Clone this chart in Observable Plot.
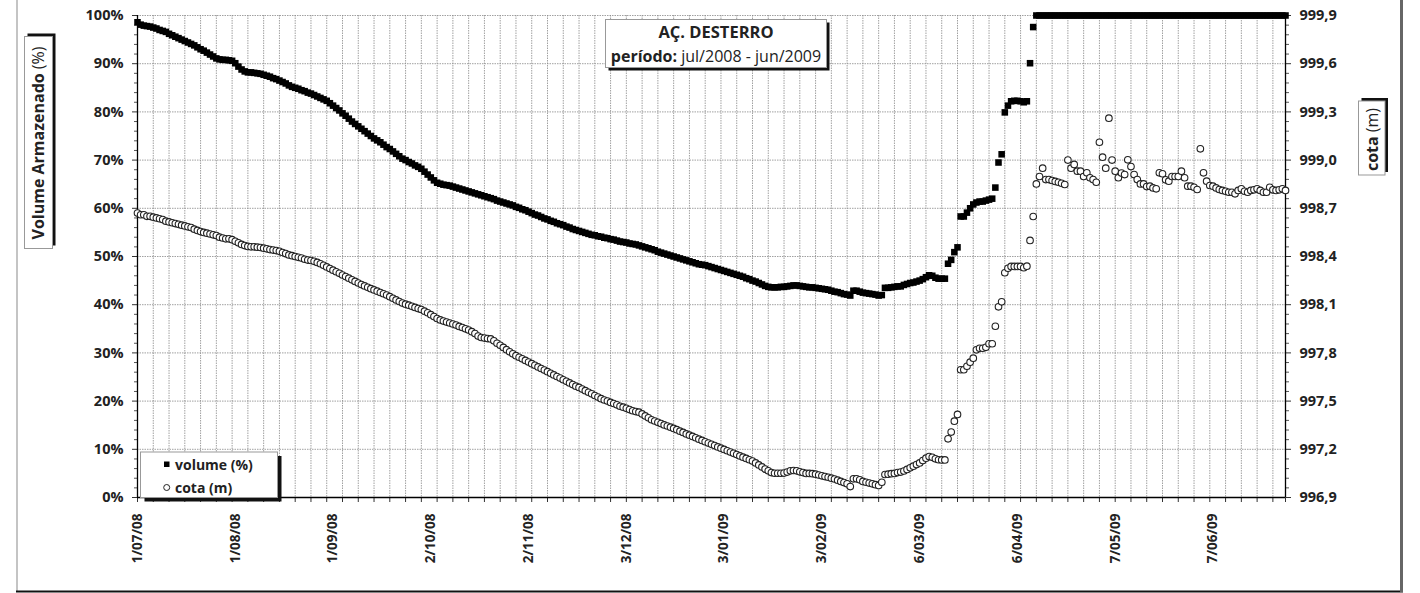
<!DOCTYPE html>
<html>
<head>
<meta charset="utf-8">
<script src="https://cdn.jsdelivr.net/npm/d3@7"></script>
<script src="https://cdn.jsdelivr.net/npm/@observablehq/plot@0.6"></script>
<style>
  html, body { margin: 0; padding: 0; background: #fff; }
  #chart svg { display: block; }
</style>
</head>
<body>
<div id="chart"></div>
<script>
// ---- DATA ----
// Daily series starting 1/07/2008 (index = day number)
const volume = [
  98.6, 98.1, 97.9, 97.8, 97.7, 97.5, 97.3, 97.0, 96.8, 96.6,
  96.2, 95.9, 95.6, 95.3, 95.0, 94.7, 94.4, 94.1, 93.8, 93.4,
  93.0, 92.7, 92.3, 91.9, 91.5, 91.1, 90.9, 90.8, 90.8, 90.7,
  90.6, 90.1, 89.4, 88.8, 88.4, 88.2, 88.2, 88.1, 88.0, 87.9,
  87.7, 87.5, 87.3, 87.0, 86.8, 86.5, 86.2, 85.9, 85.5, 85.2,
  85.0, 84.8, 84.5, 84.3, 84.0, 83.8, 83.5, 83.2, 82.9, 82.6,
  82.3, 81.8, 81.3, 80.8, 80.3, 79.7, 79.2, 78.6, 78.0, 77.5,
  77.0, 76.5, 76.0, 75.5, 75.0, 74.5, 74.1, 73.7, 73.2, 72.7,
  72.3, 71.8, 71.3, 70.8, 70.3, 70.0, 69.6, 69.3, 68.9, 68.6,
  68.2, 67.6, 67.0, 66.4, 65.8, 65.3, 65.1, 64.9, 64.8, 64.7,
  64.5, 64.3, 64.1, 63.9, 63.7, 63.5, 63.3, 63.1, 62.9, 62.7,
  62.5, 62.3, 62.1, 61.9, 61.6, 61.4, 61.2, 61.0, 60.8, 60.6,
  60.3, 60.1, 59.8, 59.6, 59.3, 59.0, 58.7, 58.5, 58.2, 57.9,
  57.7, 57.4, 57.2, 56.9, 56.7, 56.5, 56.2, 56.0, 55.7, 55.5,
  55.3, 55.1, 54.9, 54.7, 54.5, 54.4, 54.2, 54.1, 53.9, 53.8,
  53.6, 53.5, 53.3, 53.1, 53.0, 52.9, 52.7, 52.6, 52.5, 52.3,
  52.1, 51.9, 51.7, 51.5, 51.3, 51.0, 50.8, 50.6, 50.4, 50.2,
  50.0, 49.8, 49.6, 49.4, 49.2, 49.0, 48.8, 48.6, 48.4, 48.3,
  48.2, 48.0, 47.8, 47.6, 47.4, 47.2, 47.0, 46.8, 46.6, 46.4,
  46.2, 46.0, 45.8, 45.5, 45.3, 45.0, 44.8, 44.5, 44.2, 43.9,
  43.7, 43.6, 43.6, 43.6, 43.7, 43.7, 43.8, 43.9, 44.0, 44.0,
  43.9, 43.8, 43.7, 43.6, 43.6, 43.5, 43.4, 43.3, 43.2, 43.1,
  42.9, 42.7, 42.6, 42.4, 42.2, 42.1, 41.9, 42.9, 42.9, 42.7,
  42.5, 42.4, 42.3, 42.2, 42.1, 41.9, 42.0, 43.5, 43.5, 43.6,
  43.7, 43.8, 43.8, 44.1, 44.3, 44.5, 44.6, 44.8, 45.0, 45.3,
  45.7, 46.1, 46.0, 45.6, 45.4, 45.4, 45.4, 48.5, 49.3, 50.9,
  51.9, 58.3, 58.3, 59.1, 60.0, 60.8, 61.2, 61.4, 61.4, 61.6,
  61.8, 62.0, 64.3, 69.5, 71.2, 79.9, 81.3, 82.2, 82.3, 82.3,
  82.2, 82.0, 82.2, 90.1, 97.6,
  100, 100, 100, 100, 100, 100, 100, 100, 100, 100,
  100, 100, 100, 100, 100, 100, 100, 100, 100, 100,
  100, 100, 100, 100, 100, 100, 100, 100, 100, 100,
  100, 100, 100, 100, 100, 100, 100, 100, 100, 100,
  100, 100, 100, 100, 100, 100, 100, 100, 100, 100,
  100, 100, 100, 100, 100, 100, 100, 100, 100, 100,
  100, 100, 100, 100, 100, 100, 100, 100, 100, 100,
  100, 100, 100, 100, 100, 100, 100, 100, 100, 100
];

const cota = [
  998.670, 998.660, 998.660, 998.650, 998.650, 998.645, 998.640, 998.635, 998.630, 998.620,
  998.615, 998.610, 998.605, 998.600, 998.595, 998.590, 998.585, 998.580, 998.570, 998.562,
  998.555, 998.550, 998.545, 998.540, 998.535, 998.530, 998.520, 998.515, 998.510, 998.510,
  998.505, 998.495, 998.485, 998.475, 998.468, 998.463, 998.460, 998.460, 998.458, 998.456,
  998.452, 998.448, 998.443, 998.440, 998.437, 998.432, 998.425, 998.418, 998.410, 998.405,
  998.400, 998.395, 998.390, 998.383, 998.378, 998.375, 998.370, 998.363, 998.355, 998.345,
  998.335, 998.325, 998.315, 998.305, 998.295, 998.285, 998.275, 998.265, 998.255, 998.245,
  998.235, 998.225, 998.217, 998.208, 998.200, 998.192, 998.184, 998.176, 998.168, 998.160,
  998.150, 998.140, 998.130, 998.120, 998.110, 998.103, 998.097, 998.090, 998.083, 998.076,
  998.070, 998.060, 998.050, 998.038, 998.026, 998.014, 998.005, 997.998, 997.992, 997.986,
  997.980, 997.973, 997.965, 997.958, 997.950, 997.942, 997.932, 997.920, 997.905, 997.896,
  997.892, 997.889, 997.887, 997.875, 997.860, 997.847, 997.834, 997.820, 997.807, 997.794,
  997.783, 997.773, 997.763, 997.753, 997.743, 997.733, 997.723, 997.713, 997.703, 997.693,
  997.683, 997.673, 997.663, 997.653, 997.643, 997.633, 997.623, 997.613, 997.603, 997.593,
  997.585, 997.575, 997.565, 997.555, 997.545, 997.535, 997.525, 997.515, 997.507, 997.500,
  997.492, 997.485, 997.477, 997.468, 997.462, 997.455, 997.447, 997.440, 997.435, 997.431,
  997.420, 997.408, 997.396, 997.384, 997.376, 997.368, 997.360, 997.352, 997.345, 997.338,
  997.330, 997.322, 997.313, 997.305, 997.296, 997.288, 997.280, 997.272, 997.263, 997.255,
  997.247, 997.239, 997.231, 997.223, 997.215, 997.207, 997.199, 997.191, 997.183, 997.175,
  997.167, 997.159, 997.151, 997.143, 997.135, 997.127, 997.115, 997.103, 997.090, 997.077,
  997.066, 997.055, 997.051, 997.051, 997.051, 997.052, 997.058, 997.066, 997.068, 997.066,
  997.060, 997.055, 997.050, 997.050, 997.048, 997.045, 997.040, 997.035, 997.030, 997.026,
  997.020, 997.015, 997.008, 997.000, 996.993, 996.985, 996.968, 997.016, 997.016, 997.010,
  997.000, 996.995, 996.990, 996.985, 996.980, 996.974, 996.995, 997.043, 997.045, 997.048,
  997.050, 997.055, 997.058, 997.065, 997.075, 997.085, 997.095, 997.105, 997.115, 997.130,
  997.145, 997.155, 997.150, 997.141, 997.135, 997.134, 997.134, 997.265, 997.307, 997.375,
  997.417, 997.695, 997.695, 997.717, 997.742, 997.767, 997.819, 997.829, 997.829, 997.835,
  997.857, 997.857, 997.966, 998.087, 998.118, 998.299, 998.327, 998.338, 998.338, 998.338,
  998.338, 998.330, 998.340, 998.500, 998.649,
  998.852, 998.898, 998.950, 998.879, 998.879, 998.873, 998.867, 998.862, 998.856, 998.848,
  999.000, 998.950, 998.973, 998.931, 998.931, 998.898, 998.921, 998.890, 998.879, 998.862,
  999.111, 999.018, 998.950, 999.261, 999.000, 998.931, 998.890, 998.919, 998.910, 999.002,
  998.960, 998.910, 998.879, 998.852, 998.852, 998.835, 998.838, 998.827, 998.821, 998.921,
  998.915, 998.877, 998.869, 998.898, 998.898, 998.898, 998.931, 998.890, 998.838, 998.838,
  998.831, 998.817, 999.070, 998.921, 998.869, 998.842, 998.838, 998.827, 998.817, 998.811,
  998.806, 998.800, 998.800, 998.790, 998.811, 998.821, 998.806, 998.800, 998.811, 998.815,
  998.821, 998.811, 998.800, 998.800, 998.831, 998.815, 998.811, 998.815, 998.821, 998.811
];

// x-axis labels (day offsets from 1/07/08)
const dateTickDays = [0, 31, 62, 93, 124, 155, 186, 217, 248, 279, 310, 341];
const dateTickLabels = ["1/07/08", "1/08/08", "1/09/08", "2/10/08", "2/11/08", "3/12/08",
                        "3/01/09", "3/02/09", "6/03/09", "6/04/09", "7/05/09", "7/06/09"];
// vertical gridlines every 5 days
const gridDays = [0,5,10,15,20,25,30,35,40,45,50,55,60,65,70,75,80,85,90,95,100,105,110,115,120,
  125,130,135,140,145,150,155,160,165,170,175,180,185,190,195,200,205,210,215,220,225,230,235,240,
  245,250,255,260,265,270,275,280,285,290,295,300,305,310,315,320,325,330,335,340,345,350,355,360];
const leftTicks = [0, 10, 20, 30, 40, 50, 60, 70, 80, 90, 100];
const leftTickLabels = ["0%", "10%", "20%", "30%", "40%", "50%", "60%", "70%", "80%", "90%", "100%"];
const rightTickLabels = ["996,9", "997,2", "997,5", "997,8", "998,1", "998,4", "998,7", "999,0", "999,3", "999,6", "999,9"];
const minorTicks = [2,4,6,8,12,14,16,18,22,24,26,28,32,34,36,38,42,44,46,48,52,54,56,58,62,64,66,68,72,74,76,78,82,84,86,88,92,94,96,98];
const cotaMin = 996.9, cotaMax = 999.9;
const lastDay = 364;

// ---- TABLE ----
const rows = volume.map((v, i) => ({ d: i, v, c: cota[i] }));
const cotaToPct = c => (c - cotaMin) / (cotaMax - cotaMin) * 100;

const FONT = "'Open Sans', 'Noto Sans', sans-serif";
const TXT = "#222";
const GRID = { stroke: "#8a8a8a", strokeOpacity: 0.8, strokeDasharray: "1.5,1", strokeWidth: 1 };

const svg = Plot.plot({
  width: 1420,
  height: 593,
  marginLeft: 137,
  marginRight: 135,
  marginTop: 15,
  marginBottom: 96,
  x: { domain: [0, lastDay], axis: null },
  y: { domain: [0, 100], axis: null },
  style: { fontFamily: FONT, background: "white", overflow: "visible", color: TXT },
  marks: [
    Plot.gridX(gridDays, GRID),
    Plot.gridY(leftTicks, GRID),
    // x tick marks
    Plot.axisX(gridDays.concat([lastDay]), { anchor: "bottom", tickSize: 5, tickFormat: () => "", stroke: "#333", label: null }),
    // left axis
    Plot.axisY(minorTicks, { anchor: "left", tickSize: 3, tickFormat: () => "", stroke: "#555", label: null }),
    Plot.axisY(leftTicks, {
      anchor: "left", tickSize: 5, tickPadding: 9, stroke: "#333", label: null,
      tickFormat: d => leftTickLabels[leftTicks.indexOf(d)],
      fontSize: 14.5, fontWeight: "bold", fill: TXT
    }),
    // right axis
    Plot.axisY(minorTicks, { anchor: "right", tickSize: 3, tickFormat: () => "", stroke: "#555", label: null }),
    Plot.axisY(leftTicks, {
      anchor: "right", tickSize: 5, tickPadding: 9, stroke: "#333", label: null,
      tickFormat: d => rightTickLabels[leftTicks.indexOf(d)],
      fontSize: 14.5, fontWeight: "bold", fill: TXT
    }),
    // axis lines
    Plot.ruleX([0, lastDay], { stroke: "black", strokeWidth: 1.3 }),
    Plot.ruleY([0], { stroke: "black", strokeWidth: 1.5 }),
    // date labels
    Plot.text(dateTickDays, {
      x: d => d,
      text: (d, i) => dateTickLabels[i],
      frameAnchor: "bottom",
      dy: 16,
      rotate: -90,
      textAnchor: "end",
      lineAnchor: "middle",
      fontSize: 13.5,
      fontWeight: "bold",
      fill: TXT
    }),
    // series
    Plot.dot(rows, { x: "d", y: "v", symbol: "square", r: 3.7, fill: "black", stroke: "none" }),
    Plot.dot(rows, { x: "d", y: d => cotaToPct(d.c), r: 3.3, fill: "white", stroke: "#222", strokeWidth: 1.1 })
  ]
});

const s = d3.select(svg);

function shadowBox(x, y, w, h, sdx, sdy) {
  s.append("rect").attr("x", x + sdx).attr("y", y + sdy).attr("width", w).attr("height", h).attr("fill", "#111");
  s.append("rect").attr("x", x).attr("y", y).attr("width", w).attr("height", h)
    .attr("fill", "white").attr("stroke", "#999").attr("stroke-width", 1);
}
function addText(x, y, anchor, size) {
  return s.append("text").attr("x", x).attr("y", y).attr("text-anchor", anchor)
    .attr("font-family", FONT).attr("font-size", size).attr("fill", TXT);
}

// title box
shadowBox(605.5, 19.5, 221, 48, 3, 3);
addText(716, 38, "middle", 16.5).attr("font-weight", "bold").text("AÇ. DESTERRO");
const t2 = addText(716, 61.5, "middle", 16);
t2.append("tspan").attr("font-weight", "bold").text("período:");
t2.append("tspan").attr("font-weight", "normal").text(" jul/2008 - jun/2009");

// legend box
shadowBox(140.5, 452, 137, 45.5, 4, 4);
s.append("rect").attr("x", 164).attr("y", 461.5).attr("width", 5.5).attr("height", 5.5).attr("fill", "black");
addText(175, 469.5, "start", 14).attr("font-weight", "bold").text("volume (%)");
s.append("circle").attr("cx", 166.7).attr("cy", 487.5).attr("r", 3).attr("fill", "white").attr("stroke", "#222");
addText(175, 492.5, "start", 14).attr("font-weight", "bold").text("cota (m)");

// left axis title
shadowBox(24.5, 36.5, 28, 212, 3, -3);
const lt = s.append("text").attr("transform", "translate(43.5,143) rotate(-90)")
  .attr("text-anchor", "middle").attr("font-family", FONT).attr("font-size", 16).attr("fill", TXT);
lt.append("tspan").attr("font-weight", "bold").text("Volume Armazenado");
lt.append("tspan").attr("font-weight", "normal").text(" (%)");

// right axis title
shadowBox(1358.5, 101, 26.5, 74, 3, -3);
const rt = s.append("text").attr("transform", "translate(1377.5,139.5) rotate(-90)")
  .attr("text-anchor", "middle").attr("font-family", FONT).attr("font-size", 16).attr("fill", TXT);
rt.append("tspan").attr("font-weight", "bold").text("cota");
rt.append("tspan").attr("font-weight", "normal").text(" (m)");

// outer chart frame
s.append("line").attr("x1", 17).attr("x2", 17).attr("y1", 0).attr("y2", 592).attr("stroke", "#c4c4c4").attr("stroke-width", 2);
s.append("line").attr("x1", 16).attr("x2", 1403).attr("y1", 591.5).attr("y2", 591.5).attr("stroke", "#111").attr("stroke-width", 2);
s.append("line").attr("x1", 1401.5).attr("x2", 1401.5).attr("y1", 0).attr("y2", 592).attr("stroke", "#666").attr("stroke-width", 3);

document.getElementById("chart").appendChild(svg);
</script>
</body>
</html>
